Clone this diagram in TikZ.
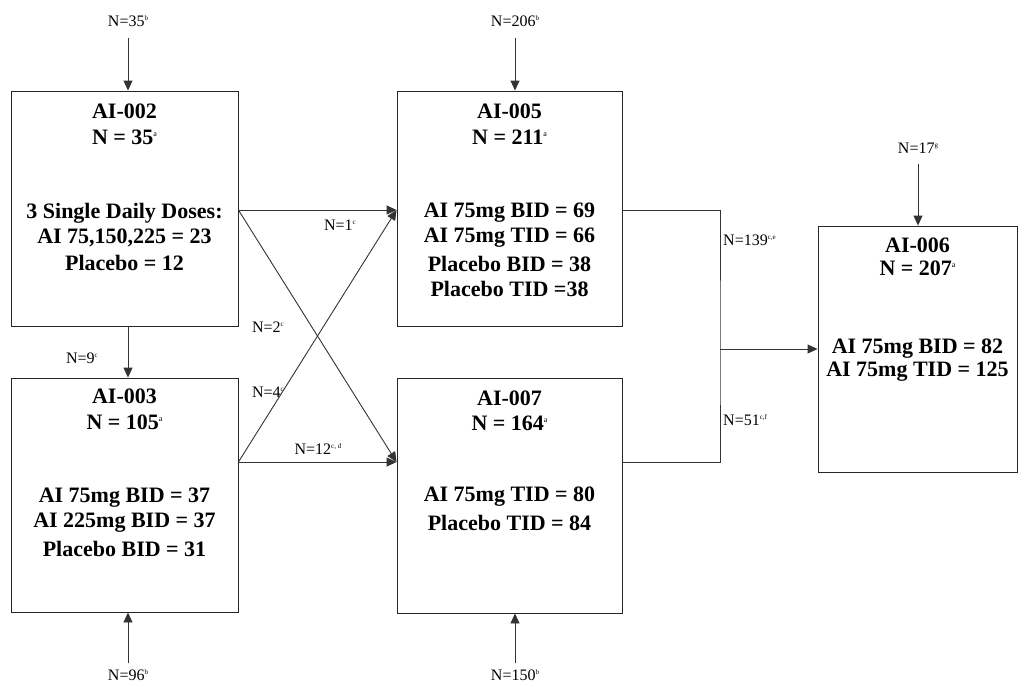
\documentclass[tikz,border=0pt]{standalone}
\usepackage{fontspec}
\setmainfont{Liberation Serif}
\usetikzlibrary{arrows.meta,calc}
\newcommand\supa[1]{\raisebox{0.75ex}{\fontsize{8}{9}\selectfont\mdseries #1}}
\newcommand\supl[1]{\raisebox{0.75ex}{\fontsize{7}{8}\selectfont #1}}
\tikzset{
  box/.style={draw=black!85, line width=0.9pt, rectangle, inner sep=0pt},
  bt/.style={font=\fontsize{22}{26}\selectfont\bfseries, inner sep=0pt},
  lab/.style={font=\fontsize{16}{18}\selectfont, inner sep=1pt},
  conn/.style={draw=black!80, line width=0.9pt},
  arr/.style={conn, -{Triangle[length=10pt,width=9pt]}}
}
\begin{document}
\begin{tikzpicture}[x=1pt,y=-1pt]
\useasboundingbox (0,0) rectangle (1028,686);
% boxes
\node[box, minimum width=227pt, minimum height=235pt] (b002) at (124.5,208.5) {};
\node[box, minimum width=227pt, minimum height=234pt] (b003) at (124.5,495) {};
\node[box, minimum width=225pt, minimum height=235pt] (b005) at (509.5,208.5) {};
\node[box, minimum width=225pt, minimum height=235pt] (b007) at (509.5,495.5) {};
\node[box, minimum width=199pt, minimum height=246pt] (b006) at (917.5,349) {};
% box texts
\node[bt] (t2a) at (124.5,111) {AI-002};
\node[bt] (t2b) at (124.5,137) {N = 35\supa{a}};
\node[bt] (t2c) at (124.5,213) {3 Single Daily Doses:};
\node[bt] (t2d) at (124.5,238) {AI 75,150,225 = 23};
\node[bt] (t2e) at (124.5,263) {Placebo = 12};
\node[bt] (t3a) at (124.5,396) {AI-003};
\node[bt] (t3b) at (124.5,422) {N = 105\supa{a}};
\node[bt] (t3c) at (124.5,498) {AI 75mg BID = 37};
\node[bt] (t3d) at (124.5,523) {AI 225mg BID = 37};
\node[bt] (t3e) at (124.5,549) {Placebo BID = 31};
\node[bt] (t5a) at (509.5,111) {AI-005};
\node[bt] (t5b) at (509.5,137) {N = 211\supa{a}};
\node[bt] (t5c) at (509.5,213) {AI 75mg BID = 69};
\node[bt] (t5d) at (509.5,238) {AI 75mg TID = 66};
\node[bt] (t5e) at (509.5,264) {Placebo BID = 38};
\node[bt] (t5f) at (509.5,289) {Placebo TID =38};
\node[bt] (t7a) at (509.5,398) {AI-007};
\node[bt] (t7b) at (509.5,423) {N = 164\supa{a}};
\node[bt] (t7c) at (509.5,497) {AI 75mg TID = 80};
\node[bt] (t7d) at (509.5,523) {Placebo TID = 84};
\node[bt] (t6a) at (917.5,245) {AI-006};
\node[bt] (t6b) at (917.5,268) {N = 207\supa{a}};
\node[bt] (t6c) at (917.5,349) {AI 75mg BID = 82};
\node[bt] (t6d) at (917.5,372) {AI 75mg TID = 125};
% outside labels
\node[lab] (l35) at (128,21) {N=35\supl{b}};
\node[lab] (l206) at (515,21) {N=206\supl{b}};
\node[lab] (l17) at (918,148) {N=17\supl{g}};
\node[lab] (l96) at (128,675) {N=96\supl{b}};
\node[lab] (l150) at (515,675) {N=150\supl{b}};
\node[lab] (l9) at (82,358) {N=9\supl{c}};
\node[lab] (l1) at (340,225) {N=1\supl{c}};
\node[lab] (l2) at (268,327) {N=2\supl{c}};
\node[lab] (l4) at (268,392) {N=4\supl{c}};
\node[lab] (l12) at (318,449) {N=12\supl{c, d}};
\node[lab, anchor=west] (l139) at (722,240) {N=139\supl{c,e}};
\node[lab, anchor=west] (l51) at (722,420) {N=51\supl{c,f}};
% junction coordinates
\coordinate (p2) at (b002.east |- 0,210);
\coordinate (p3) at (b003.east |- 0,462);
\coordinate (p5) at (b005.west |- 0,210);
\coordinate (p7) at (b007.west |- 0,462);
\coordinate (q5) at (b005.east |- 0,210);
\coordinate (q7) at (b007.east |- 0,462);
\coordinate (j) at (720,349);
% vertical input arrows
\draw[arr] ([yshift=-10pt]l35.south) -- (l35 |- b002.north);
\draw[arr] ([yshift=-10pt]l206.south) -- (l206 |- b005.north);
\draw[arr] ([yshift=-10pt]l17.south) -- (l17 |- b006.north);
\draw[arr] ([yshift=5pt]l96.north) -- (l96 |- b003.south);
\draw[arr] ([yshift=5pt]l150.north) -- (l150 |- b007.south);
\draw[arr] (b002.south -| l35) -- (b003.north -| l35);
% crossing connectors
\draw[arr] (p2) -- (p5);
\draw[arr] (p2) -- (p7);
\draw[arr] (p3) -- (p5);
\draw[arr] (p3) -- (p7);
% merge to AI-006
\draw[conn] (q5) -| (j) |- (q7);
\draw[arr] (j) -- (b006.west |- j);
\end{tikzpicture}
\end{document}
